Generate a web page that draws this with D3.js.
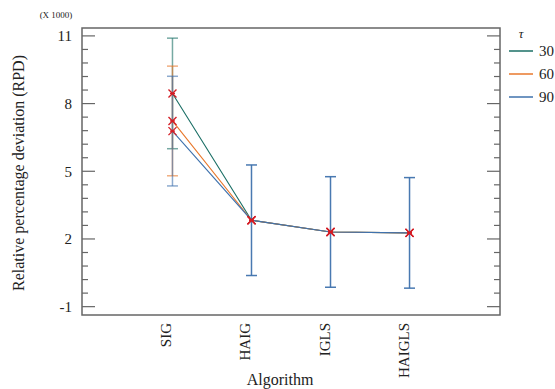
<!DOCTYPE html>
<html>
<head>
  <script src="https://d3js.org/d3.v7.min.js"></script>
  <style>
    body { margin: 0; background: #fff; }
    text { font-family: "Liberation Serif", "Times New Roman", serif; fill: #222; }
  </style>
</head>
<body>
<script>
// data (values in thousands)
var algorithms = ["SIG", "HAIG", "IGLS", "HAIGLS"];
var taus = ["30", "60", "90"];
var mean30 = [8.45, 2.83, 2.31, 2.27];
var mean60 = [7.23, 2.83, 2.31, 2.27];
var mean90 = [6.78, 2.83, 2.31, 2.27];
var half30 = [2.45, 2.45, 2.45, 2.45];
var half60 = [2.43, 2.45, 2.45, 2.45];
var half90 = [2.43, 2.45, 2.45, 2.45];
var yTicks = [-1, 2, 5, 8, 11];
var colors = ["#1b6f66", "#e8782c", "#3f72ad"];

var series = [
  {tau: taus[0], mean: mean30, half: half30, color: colors[0]},
  {tau: taus[1], mean: mean60, half: half60, color: colors[1]},
  {tau: taus[2], mean: mean90, half: half90, color: colors[2]}
];

var W = 555, H = 389;
var pL = 82, pR = 500, pT = 28, pB = 315;

var svg = d3.select("body").append("svg").attr("width", W).attr("height", H);

var x = d3.scalePoint().domain(algorithms).range([pL, pR]).padding(1.145);
var y = d3.scaleLinear().domain([-1.37, 11.35]).range([pB, pT]);

// frame
svg.append("rect").attr("x", pL).attr("y", pT).attr("width", pR - pL).attr("height", pB - pT)
  .attr("fill", "none").attr("stroke", "#666").attr("stroke-width", 1.5);

// y ticks left + right (inward)
var minor = d3.range(-1, 11.35, 0.6).filter(function(v){
  var r = (v + 1) % 3; return r > 0.01 && r < 2.99;
});
var gT = svg.append("g").attr("stroke", "#666").attr("stroke-width", 1.2);
yTicks.forEach(function(v){
  gT.append("line").attr("x1", pL).attr("x2", pL + 13).attr("y1", y(v)).attr("y2", y(v));
  gT.append("line").attr("x1", pR).attr("x2", pR - 13).attr("y1", y(v)).attr("y2", y(v));
});
minor.forEach(function(v){
  gT.append("line").attr("x1", pL).attr("x2", pL + 6).attr("y1", y(v)).attr("y2", y(v));
  gT.append("line").attr("x1", pR).attr("x2", pR - 6).attr("y1", y(v)).attr("y2", y(v));
});
svg.selectAll(".ytl").data(yTicks).enter().append("text")
  .attr("x", 72).attr("y", function(d){ return y(d); }).attr("dy", "0.35em")
  .attr("text-anchor", "end").attr("font-size", 15).text(function(d){ return d; });

svg.append("text").attr("x", 56).attr("y", 18).attr("text-anchor", "middle").attr("font-size", 9).text("(X 1000)");

// x labels
svg.selectAll(".xtl").data(algorithms).enter().append("text")
  .attr("transform", function(d){ return "translate(" + (x(d) - 1) + ",323) rotate(-90)"; })
  .attr("text-anchor", "end").attr("font-size", 15).text(function(d){ return d; });

svg.append("text").attr("x", 280).attr("y", 385).attr("text-anchor", "middle").attr("font-size", 16).text("Algorithm");
svg.append("text").attr("transform", "translate(24,173) rotate(-90)").attr("text-anchor", "middle")
  .attr("font-size", 16).text("Relative percentage deviation (RPD)");

// error bars: bars shared by every series are drawn once (top series shows)
algorithms.forEach(function(a, i){
  var same = series.every(function(s){
    return s.mean[i] === series[0].mean[i] && s.half[i] === series[0].half[i];
  });
  var list = same ? [series[series.length - 1]] : series;
  list.forEach(function(s){
    var g = svg.append("g").attr("stroke", s.color).attr("stroke-width", 1.5)
      .attr("stroke-opacity", same ? 0.95 : 0.6);
    var lo = y(s.mean[i] - s.half[i]), hi = y(s.mean[i] + s.half[i]);
    g.append("line").attr("x1", x(a)).attr("x2", x(a)).attr("y1", lo).attr("y2", hi);
    g.append("line").attr("x1", x(a) - 5.5).attr("x2", x(a) + 5.5).attr("y1", lo).attr("y2", lo);
    g.append("line").attr("x1", x(a) - 5.5).attr("x2", x(a) + 5.5).attr("y1", hi).attr("y2", hi);
  });
});

// mean lines
var line = d3.line().x(function(d, i){ return x(algorithms[i]); }).y(function(d){ return y(d); });
series.forEach(function(s){
  svg.append("path").datum(s.mean).attr("d", line).attr("fill", "none")
    .attr("stroke", s.color).attr("stroke-width", 1.1);
});

// markers
series.forEach(function(s){
  s.mean.forEach(function(m, i){
    var cx = x(algorithms[i]), cy = y(m), r = 4;
    var g = svg.append("g").attr("stroke", "#d41c24").attr("stroke-width", 1.3);
    g.append("line").attr("x1", cx - r).attr("x2", cx + r).attr("y1", cy - r).attr("y2", cy + r);
    g.append("line").attr("x1", cx - r).attr("x2", cx + r).attr("y1", cy + r).attr("y2", cy - r);
    g.append("line").attr("x1", cx - 2.5).attr("x2", cx + 2.5).attr("y1", cy).attr("y2", cy);
  });
});

// legend
svg.append("text").attr("x", 521).attr("y", 38).attr("text-anchor", "middle").attr("font-size", 13)
  .attr("font-style", "italic").text("τ");
series.forEach(function(s, i){
  var ly = 51 + i * 23;
  svg.append("line").attr("x1", 509).attr("x2", 533).attr("y1", ly).attr("y2", ly)
    .attr("stroke", s.color).attr("stroke-width", 1.5);
  svg.append("text").attr("x", 539).attr("y", ly).attr("dy", "0.35em").attr("font-size", 15).text(s.tau);
});
</script>
</body>
</html>
